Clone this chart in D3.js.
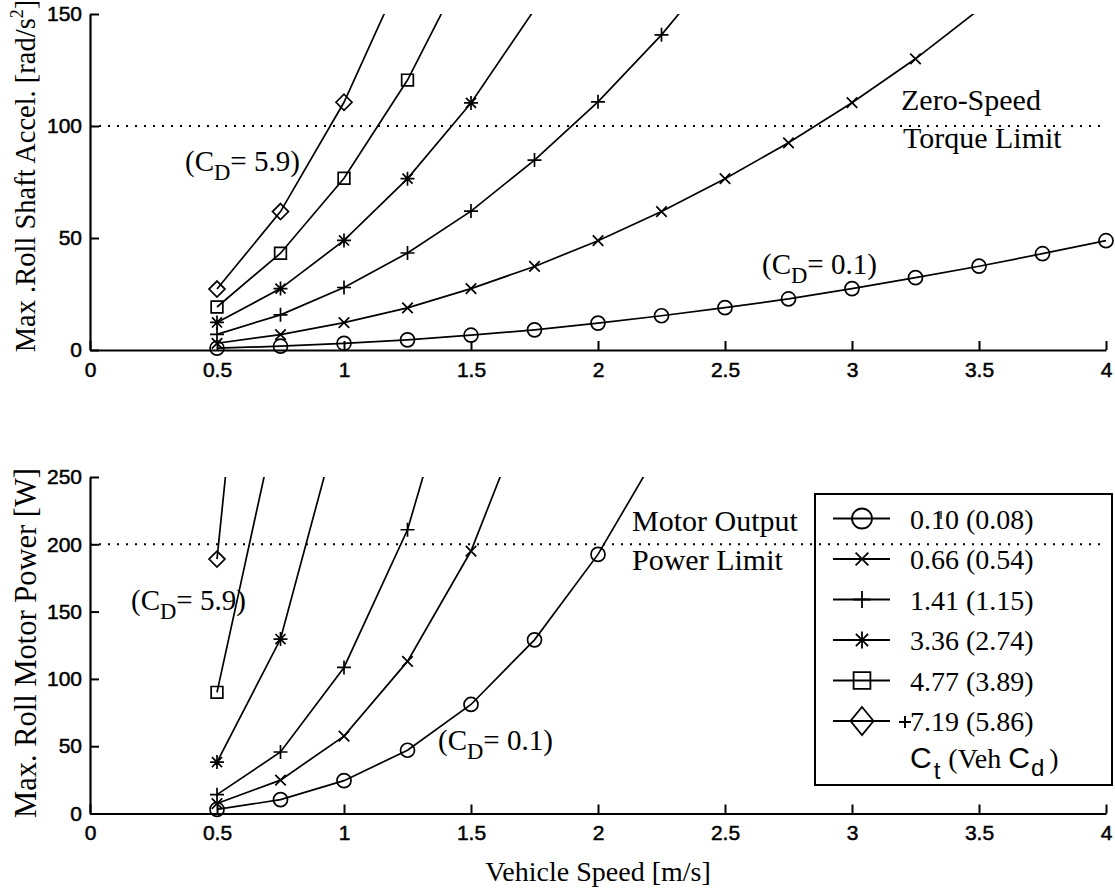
<!DOCTYPE html>
<html>
<head>
<meta charset="utf-8">
<script src="https://cdn.jsdelivr.net/npm/d3@7/dist/d3.min.js"></script>
<style>
  html, body { margin: 0; padding: 0; background: #fff; }
  svg { display: block; }
  .tick text { font-family: "Liberation Sans", Arial, sans-serif; font-size: 21px; fill: #000; stroke: #000; stroke-width: 0.5px; }
  .serif { font-family: "Liberation Serif", "Times New Roman", serif; fill: #000; }
  .sans { font-family: "Liberation Sans", Arial, sans-serif; fill: #000; }
</style>
</head>
<body>
<svg id="chart" width="1115" height="893"></svg>
<script>
// Vehicle speed samples [m/s]
const speeds = [0.5, 0.75, 1, 1.25, 1.5, 1.75, 2, 2.25, 2.5, 2.75, 3, 3.25, 3.5, 3.75, 4];

// Thrust coefficient labels and vehicle drag coefficients
const ctLabels = ["0.10", "0.66", "1.41", "3.36", "4.77", "7.19"];
const vehCd = ["0.08", "0.54", "1.15", "2.74", "3.89", "5.86"];
const markers = ["circle", "x", "plus", "star", "square", "diamond"];

// Maximum roll shaft acceleration [rad/s^2], one array per Ct (starting at 0.5 m/s)
const accelCt010 = [0.8, 1.7, 3.0, 4.5, 6.6, 9.0, 12.0, 15.3, 18.9, 22.8, 27.4, 32.3, 37.4, 43.0, 48.8];
const accelCt066 = [3.0, 6.9, 12.2, 18.8, 27.4, 37.3, 48.8, 61.8, 76.5, 92.5, 110.4, 130.0, 152];
const accelCt141 = [7.0, 15.7, 27.9, 43.3, 62.0, 84.8, 110.8, 140.7, 175];
const accelCt336 = [12.3, 27.4, 48.9, 76.5, 110.3, 152];
const accelCt477 = [19.2, 43.2, 76.7, 120.5, 176];
const accelCt719 = [27.2, 61.8, 110.6, 173];

// Maximum roll motor power [W], one array per Ct (starting at 0.5 m/s)
const powerCt010 = [3.0, 10.3, 24.4, 47.0, 81.0, 129.0, 192.5, 273];
const powerCt066 = [7.4, 24.8, 57.5, 113.0, 195.0, 315];
const powerCt141 = [14.0, 45.7, 108.5, 210.8, 372];
const powerCt336 = [38.2, 129.6, 305];
const powerCt477 = [90.0, 306];
const powerCt719 = [189.0, 650];

// Axis ticks and limits
const xTicks = [0, 0.5, 1, 1.5, 2, 2.5, 3, 3.5, 4];
const accelTicks = [0, 50, 100, 150];
const powerTicks = [0, 50, 100, 150, 200, 250];
const torqueLimit = 100;
const powerLimit = 200;

const accelSeries = [accelCt010, accelCt066, accelCt141, accelCt336, accelCt477, accelCt719];
const powerSeries = [powerCt010, powerCt066, powerCt141, powerCt336, powerCt477, powerCt719];

const svg = d3.select("#chart");

const x = d3.scaleLinear().domain([0, 4]).range([90, 1106]);
const yA = d3.scaleLinear().domain([0, 150]).range([350, 14]);
const yP = d3.scaleLinear().domain([0, 250]).range([813.5, 477]);

// Marker glyph paths centred on (0,0)
function markerPath(type, s) {
  const p = d3.path();
  if (type === "circle") { p.moveTo(s, 0); p.arc(0, 0, s, 0, 2 * Math.PI); }
  else if (type === "x") { const a = s * 0.75; p.moveTo(-a, -a); p.lineTo(a, a); p.moveTo(-a, a); p.lineTo(a, -a); }
  else if (type === "plus") { p.moveTo(-s, 0); p.lineTo(s, 0); p.moveTo(0, -s); p.lineTo(0, s); }
  else if (type === "star") {
    const a = s * 0.72;
    p.moveTo(-s, 0); p.lineTo(s, 0); p.moveTo(0, -s); p.lineTo(0, s);
    p.moveTo(-a, -a); p.lineTo(a, a); p.moveTo(-a, a); p.lineTo(a, -a);
  }
  else if (type === "square") { const a = s * 0.8; p.rect(-a, -a, 2 * a, 2 * a); }
  else if (type === "diamond") { p.moveTo(0, -s); p.lineTo(s, 0); p.lineTo(0, s); p.lineTo(-s, 0); p.closePath(); }
  return p.toString();
}
const markerSize = { circle: 7, x: 7, plus: 7, star: 7, square: 7.3, diamond: 8 };

function drawPanel(y, seriesList, ticks, limit, clipId) {
  const [y0, y1] = y.range();
  const yMax = y.domain()[1];

  svg.append("clipPath").attr("id", clipId)
    .append("rect").attr("x", x(0)).attr("y", y1).attr("width", x(4) - x(0) + 2).attr("height", y0 - y1 + 40);

  // limit line
  svg.append("line")
    .attr("x1", x(0)).attr("x2", x(4))
    .attr("y1", y(limit)).attr("y2", y(limit))
    .attr("stroke", "#000").attr("stroke-width", 2)
    .attr("stroke-dasharray", "2,7");

  const line = d3.line().x(d => x(d[0])).y(d => y(d[1]));
  seriesList.forEach((vals, i) => {
    const pts = vals.map((v, k) => [speeds[k], v]);
    svg.append("path")
      .attr("clip-path", `url(#${clipId})`)
      .attr("d", line(pts))
      .attr("fill", "none").attr("stroke", "#000").attr("stroke-width", 1.7);
    svg.append("g").selectAll("path")
      .data(pts.filter(d => d[1] <= yMax))
      .join("path")
      .attr("transform", d => `translate(${x(d[0])},${y(d[1])})`)
      .attr("d", markerPath(markers[i], markerSize[markers[i]]))
      .attr("fill", "none").attr("stroke", "#000").attr("stroke-width", 1.7);
  });

  const yAxis = d3.axisLeft(y).tickValues(ticks).tickFormat(d3.format("d"))
    .tickSizeInner(-9).tickSizeOuter(0).tickPadding(8);
  const gy = svg.append("g").attr("transform", `translate(${x(0)},0)`).call(yAxis);
  const xAxis = d3.axisBottom(x).tickValues(xTicks).tickFormat(d => String(d))
    .tickSizeInner(-9).tickSizeOuter(0).tickPadding(12);
  const gx = svg.append("g").attr("transform", `translate(0,${y0})`).call(xAxis);
  [gx, gy].forEach(g => {
    g.select(".domain").attr("stroke-width", 2.2);
    g.selectAll(".tick line").attr("stroke-width", 2);
  });
}

drawPanel(yA, accelSeries, accelTicks, torqueLimit, "clipAccel");
drawPanel(yP, powerSeries, powerTicks, powerLimit, "clipPower");

// Subscripted label helper: parts = [[text, isSub], ...]
function richText(xp, yp, parts, size, cls) {
  const t = svg.append("text").attr("class", cls || "serif").attr("x", xp).attr("y", yp).attr("font-size", size);
  let sub = false;
  parts.forEach(([s, isSub]) => {
    const ts = t.append("tspan").text(s);
    if (isSub && !sub) ts.attr("dy", size * 0.3).attr("font-size", size * 0.78);
    else if (!isSub && sub) ts.attr("dy", -size * 0.3);
    sub = isSub;
  });
  return t;
}

// Axis titles
svg.append("text").attr("class", "serif").attr("font-size", 28.5)
  .attr("transform", "translate(35,176) rotate(-90)").attr("text-anchor", "middle")
  .call(t => {
    t.append("tspan").text("Max .Roll Shaft Accel. [rad/s");
    t.append("tspan").text("2").attr("font-size", 18).attr("dy", -12);
    t.append("tspan").text("]").attr("dy", 12);
  });
svg.append("text").attr("class", "serif").attr("font-size", 30.5)
  .attr("transform", "translate(36,643) rotate(-90)").attr("text-anchor", "middle")
  .text("Max. Roll Motor Power [W]");
svg.append("text").attr("class", "serif").attr("font-size", 28)
  .attr("x", 598).attr("y", 881).attr("text-anchor", "middle")
  .text("Vehicle Speed [m/s]");

// Annotations
richText(185, 171, [["(C", false], ["D", true], ["= 5.9)", false]], 29);
richText(762, 274, [["(C", false], ["D", true], ["= 0.1)", false]], 29);
richText(131, 610, [["(C", false], ["D", true], ["= 5.9)", false]], 29);
richText(438, 750, [["(C", false], ["D", true], ["= 0.1)", false]], 29);
svg.append("text").attr("class", "serif").attr("font-size", 30).attr("x", 901).attr("y", 110).text("Zero-Speed");
svg.append("text").attr("class", "serif").attr("font-size", 30).attr("x", 903).attr("y", 148).text("Torque Limit");
svg.append("text").attr("class", "serif").attr("font-size", 30).attr("x", 632).attr("y", 531).text("Motor Output");
svg.append("text").attr("class", "serif").attr("font-size", 30).attr("x", 632).attr("y", 570).text("Power Limit");

// Legend
const lg = svg.append("g").attr("transform", "translate(815,494)");
lg.append("rect").attr("x", 0).attr("y", 0).attr("width", 297).attr("height", 291)
  .attr("fill", "none").attr("stroke", "#000").attr("stroke-width", 2);
ctLabels.forEach((c, i) => {
  const yy = 24.5 + i * 40.5;
  lg.append("line").attr("x1", 18).attr("x2", 75).attr("y1", yy).attr("y2", yy)
    .attr("stroke", "#000").attr("stroke-width", 1.8);
  lg.append("path").attr("transform", `translate(47,${yy})`)
    .attr("d", markers[i] === "diamond"
      ? "M0,-14L11.5,0L0,14L-11.5,0Z"
      : markerPath(markers[i], markers[i] === "circle" ? 10 : markers[i] === "square" ? 10.5 : 8.5))
    .attr("fill", "none").attr("stroke", "#000").attr("stroke-width", 1.8);
  lg.append("text").attr("class", "serif").attr("font-size", 28)
    .attr("x", 95).attr("y", yy + 10).text(`${c} (${vehCd[i]})`);
});
// small stray marks printed in the legend
lg.append("path").attr("d", "M126,17L126,25").attr("stroke", "#000").attr("stroke-width", 1.3);
lg.append("path").attr("d", "M84,228L96,228M90,222L90,234").attr("stroke", "#000").attr("stroke-width", 2);
// legend caption: Ct (Veh Cd)
const cap = lg.append("text").attr("x", 95).attr("y", 274).attr("font-size", 30);
cap.append("tspan").attr("class", "sans").text("C");
cap.append("tspan").attr("class", "sans").attr("font-size", 24).attr("dy", 11).attr("dx", 2).text("t");
cap.append("tspan").attr("class", "serif").attr("font-size", 28).attr("dy", -11).attr("dx", 8).text("(Veh ");
cap.append("tspan").attr("class", "sans").text("C");
cap.append("tspan").attr("class", "sans").attr("font-size", 24).attr("dy", 8).attr("dx", 1).text("d");
cap.append("tspan").attr("class", "serif").attr("font-size", 28).attr("dy", -8).attr("dx", 5).text(")");
</script>
</body>
</html>
